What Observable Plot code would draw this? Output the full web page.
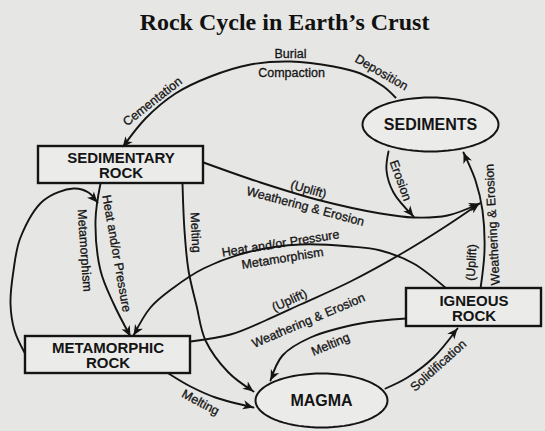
<!DOCTYPE html>
<html>
<head>
<meta charset="utf-8">
<script src="https://cdn.jsdelivr.net/npm/d3@7"></script>
<script src="https://cdn.jsdelivr.net/npm/@observablehq/plot@0.6"></script>
<style>
  html, body { margin: 0; padding: 0; background: #e6e6e4; }
  #chart svg { display: block; }
</style>
</head>
<body>
<div id="chart"></div>
<script>
// ---- Diagram content (diagram coordinates: 0..545 across, 0..431 down) ----
const title = "Rock Cycle in Earth’s Crust";

// Rectangular rock nodes
const boxNames = ["SEDIMENTARY\nROCK", "METAMORPHIC\nROCK", "IGNEOUS\nROCK"];
const boxX1 = [38, 25, 406];
const boxX2 = [203, 190, 541];
const boxY1 = [146, 336, 288];
const boxY2 = [183, 373, 326];

// Elliptical nodes
const ellipseNames = ["SEDIMENTS", "MAGMA"];
const ellipseCx = [430, 321];
const ellipseCy = [124, 400];
const ellipseRx = [68, 66];
const ellipseRy = [27, 27];

// Process arrows (waypoints of each curved arrow, ending at its head)
const edgeIds = ["burial", "erosion", "sedWeather", "metaWeather", "ignSed", "sedMeta",
                 "loop", "sedMagma", "metaMagma", "ignMeta", "ignMagma", "solid"];
const edgePoints = [
  [[395,97],[383,86],[360,73],[333,66],[290,61],[250,64],[210,76],[175,93],[145,118],[122,147]],
  [[388,151],[386,170],[393,192],[413,216]],
  [[203,162],[260,182],[320,200],[380,213],[413,217],[447,215],[479,203]],
  [[190,341],[230,334],[265,320],[300,304],[350,281],[403,252],[445,226],[479,203]],
  [[480,288],[484,250],[482,210],[475,180],[463,152]],
  [[100,183],[95,220],[100,270],[113,303],[130,336]],
  [[24,352],[14,330],[10,303],[13,270],[20,237],[43,200],[73,188],[88,192],[97,202]],
  [[182,183],[184,230],[188,270],[196,305],[205,340],[228,372],[253,391]],
  [[168,373],[190,386],[215,397],[253,407]],
  [[447,289],[413,263],[380,250],[350,246],[300,244],[250,251],[203,268],[172,288],[150,307],[133,335]],
  [[406,318],[360,323],[310,337],[282,355],[270,380]],
  [[385,388],[407,377],[433,357],[457,328]]
];

// Process labels
const labelTexts = ["Burial", "Compaction", "Cementation", "Deposition", "Erosion",
  "(Uplift)", "Weathering & Erosion", "Melting", "Heat and/or Pressure", "Metamorphism",
  "(Uplift)", "Weathering & Erosion", "Heat and/or Pressure", "Metamorphism",
  "Melting", "Melting", "Solidification", "(Uplift)", "Weathering & Erosion"];
const labelX = [290, 291, 152, 381, 400, 308, 305, 195, 280, 282, 289, 308, 116, 84, 200, 330, 438, 471, 492];
const labelY = [53, 72, 101, 72, 180, 189, 206, 232, 243, 258, 300, 320, 253, 250, 402, 344, 365, 262, 224];
const labelAngle = [0, 0, -38, 30, 70, 16, 15, 87, -9, -9, -24, -23, 80, 86, 28, -23, -42, -87, -93];

// ---- Tables built from the arrays ----
const boxes = boxNames.map((name, i) => ({name, x1: boxX1[i], x2: boxX2[i], y1: boxY1[i], y2: boxY2[i]}));
const ellipseCenters = ellipseNames.map((name, i) => ({name, x: ellipseCx[i], y: ellipseCy[i]}));
const ellipseOutline = ellipseNames.flatMap((name, i) =>
  d3.range(0, 72).map(k => {
    const t = (k / 72) * 2 * Math.PI;
    return {name, x: ellipseCx[i] + ellipseRx[i] * Math.cos(t), y: ellipseCy[i] + ellipseRy[i] * Math.sin(t)};
  }));
const edgeRows = edgeIds.flatMap((id, i) => edgePoints[i].map(([x, y]) => ({id, x, y})));
const arrowHeads = edgeIds.map((id, i) => {
  const p = edgePoints[i], a = p[p.length - 2], b = p[p.length - 1];
  return {id, x: b[0], y: b[1], angle: Math.atan2(b[0] - a[0], -(b[1] - a[1])) * 180 / Math.PI};
});
const labels = labelTexts.map((text, i) => ({text, x: labelX[i], y: labelY[i], angle: labelAngle[i]}));

const arrowSymbol = {
  draw(ctx, size) {
    const r = Math.sqrt(size / Math.PI);
    const L = 2.3 * r, w = 1.0 * r;
    ctx.moveTo(0, 0);
    ctx.lineTo(-w, L);
    ctx.lineTo(0, 0.72 * L);
    ctx.lineTo(w, L);
    ctx.closePath();
  }
};

const ink = "#141414";
const chart = Plot.plot({
  width: 545,
  height: 431,
  margin: 0,
  style: {background: "#e6e6e4", overflow: "visible"},
  x: {domain: [0, 545], range: [0, 545], axis: null},
  y: {domain: [0, 431], range: [0, 431], axis: null},
  marks: [
    Plot.line(edgeRows, {x: "x", y: "y", z: "id", curve: "catmull-rom", stroke: ink, strokeWidth: 1.9}),
    Plot.rect(boxes, {x1: "x1", x2: "x2", y1: "y1", y2: "y2", fill: "#ebebe9", stroke: ink, strokeWidth: 2.4}),
    Plot.line(ellipseOutline, {x: "x", y: "y", z: "name", curve: "linear-closed", fill: "#ebebe9", stroke: ink, strokeWidth: 2}),
    Plot.text(boxes, {x: d => (d.x1 + d.x2) / 2, y: d => (d.y1 + d.y2) / 2 + 1, text: "name",
      fontFamily: "Liberation Sans, Arial, sans-serif", fontWeight: "bold", fontSize: 15, lineHeight: 1.0, fill: ink}),
    Plot.text(ellipseCenters, {x: "x", y: "y", text: "name",
      fontFamily: "Liberation Sans, Arial, sans-serif", fontWeight: "bold", fontSize: 16, fill: ink}),
    Plot.text(labels, {x: "x", y: "y", text: "text", rotate: "angle",
      fontFamily: "Liberation Sans, Arial, sans-serif", fontSize: 12.5, fill: ink,
      stroke: ink, strokeWidth: 0.3}),
    Plot.dot(arrowHeads, {x: "x", y: "y", r: 4.6, symbol: arrowSymbol, rotate: "angle", fill: ink, stroke: null}),
    Plot.text([title], {x: 284, y: 22, text: d => d,
      fontFamily: "Liberation Serif, Times New Roman, serif", fontWeight: "bold", fontSize: 24, fill: "#111"})
  ]
});
document.getElementById("chart").appendChild(chart);
</script>
</body>
</html>
